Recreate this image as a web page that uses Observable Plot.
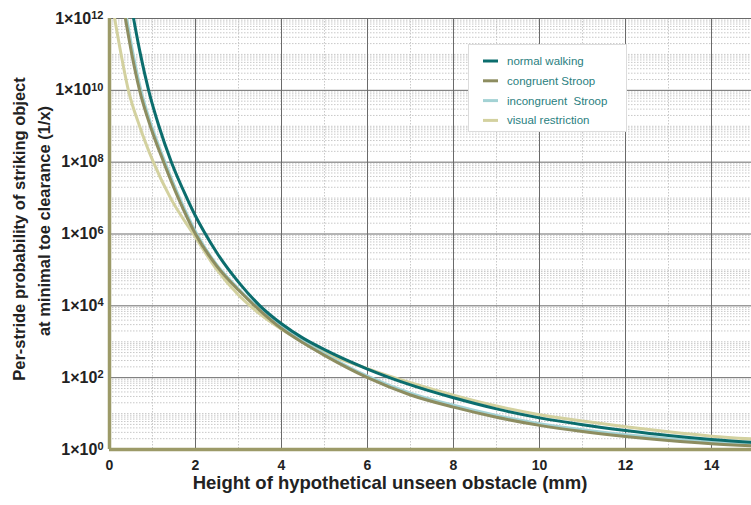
<!DOCTYPE html>
<html>
<head>
<meta charset="utf-8">
<script src="https://cdn.jsdelivr.net/npm/d3@7"></script>
<script src="https://cdn.jsdelivr.net/npm/@observablehq/plot@0.6"></script>
<style>
  html, body { margin: 0; padding: 0; background: #fff; }
  #chart { position: relative; width: 751px; height: 505px; }
  svg { font-family: "Liberation Sans", Arial, sans-serif; }
</style>
</head>
<body>
<div id="chart"></div>
<script>
// ---- data ----
const seriesNames = ["normal walking", "congruent Stroop", "incongruent  Stroop", "visual restriction"];
const seriesColors = ["#0b6d6d", "#8d8d60", "#a3d2d4", "#d3d19f"];

const normalX = [0.56, 0.72, 0.91, 1.15, 1.44, 1.8, 2.0, 2.2, 2.5, 3.0, 3.5, 4, 4.5, 5, 6, 7, 8, 9, 10, 11, 12, 13, 14, 15];
const normalY = [1e12, 1e11, 1e10, 1e9, 1e8, 1e7, 3.16e6, 1.15e6, 2.95e5, 4.57e4, 1e4, 3.16e3, 1.26e3, 603, 174, 63, 27.5, 13.5, 7.6, 4.9, 3.39, 2.45, 1.9, 1.58];

const congruentX = [0.37, 0.52, 0.70, 0.95, 1.26, 1.6, 2.0, 2.5, 3.0, 3.5, 4, 4.5, 5, 6, 7, 8, 9, 10, 11, 12, 13, 14, 15];
const congruentY = [1e12, 1e11, 1e10, 1e9, 1e8, 1e7, 1e6, 1.26e5, 2.75e4, 7.4e3, 2.34e3, 933, 417, 100, 33, 15.1, 7.9, 4.7, 3.16, 2.3, 1.78, 1.45, 1.26];

const incongruentX = [0.40, 0.55, 0.73, 0.98, 1.29, 1.63, 2.03, 2.5, 3.0, 3.5, 4, 4.5, 5, 6, 7, 8, 9, 10, 11, 12, 13, 14, 15];
const incongruentY = [1e12, 1e11, 1e10, 1e9, 1e8, 1e7, 1e6, 1.35e5, 2.95e4, 8.1e3, 2.57e3, 1.02e3, 457, 110, 37, 17, 8.9, 5.25, 3.55, 2.57, 2.0, 1.62, 1.41];

const visualX = [0.12, 0.27, 0.44, 0.70, 1.02, 1.42, 1.95, 2.5, 3.0, 3.5, 4, 4.5, 5, 6, 7, 8, 9, 10, 11, 12, 13, 14, 15];
const visualY = [1e12, 1e11, 1e10, 1e9, 1e8, 1e7, 1e6, 1e5, 2.0e4, 5.9e3, 2.24e3, 1e3, 501, 178, 72, 32.4, 16.2, 9.3, 6.2, 4.3, 3.1, 2.35, 1.95];

const xTicks = [0, 2, 4, 6, 8, 10, 12, 14];
const xMinorTicks = [1, 3, 5, 7, 9, 11, 13];
const yTicks = [1, 1e2, 1e4, 1e6, 1e8, 1e10, 1e12];
const yTickBase = "1×10";
const yTickExp = ["0", "2", "4", "6", "8", "10", "12"];

const xLabel = "Height of hypothetical unseen obstacle (mm)";
const yLabel1 = "Per-stride probability of striking object";
const yLabel2 = "at minimal toe clearance (1/x)";

// ---- build table ----
const seriesXs = [normalX, congruentX, incongruentX, visualX];
const seriesYs = [normalY, congruentY, incongruentY, visualY];
const rows = [];
seriesNames.forEach((name, i) => {
  seriesXs[i].forEach((x, j) => rows.push({series: name, x, y: seriesYs[i][j]}));
});

// minor log grid lines: 2..9 x 10^k and odd decades
const yMinor = [];
for (let k = 0; k < 12; k++) {
  for (let m = 2; m <= 9; m++) yMinor.push(m * Math.pow(10, k));
  if (k % 2 === 1) yMinor.push(Math.pow(10, k));
}

const drawOrder = ["visual restriction", "incongruent  Stroop", "congruent Stroop", "normal walking"];
const colorOf = Object.fromEntries(seriesNames.map((n, i) => [n, seriesColors[i]]));

const FONT = '"Liberation Sans", Arial, sans-serif';

const plot = Plot.plot({
  width: 751,
  height: 505,
  marginLeft: 109,
  marginRight: 0,
  marginTop: 18,
  marginBottom: 56,
  style: {fontFamily: FONT, background: "#fff"},
  x: {domain: [0, 14.93]},
  y: {type: "log", domain: [1, 1e12]},
  marks: [
    Plot.gridX(xMinorTicks, {stroke: "#c8c8c8", strokeOpacity: 1, strokeDasharray: "1.5,1.5"}),
    Plot.gridY(yMinor, {stroke: "#c8c8c8", strokeOpacity: 1, strokeDasharray: "1.5,1.5"}),
    Plot.gridX(xTicks.slice(1), {stroke: "#6a6a6a", strokeOpacity: 1}),
    Plot.gridY(yTicks, {stroke: "#6a6a6a", strokeOpacity: 1}),
    ...drawOrder.map(name => Plot.line(rows.filter(d => d.series === name), {
      x: "x", y: "y", stroke: colorOf[name], strokeWidth: 3, curve: "monotone-x", clip: true
    })),
    Plot.ruleX([0], {stroke: "#9c9a68", strokeWidth: 3.5}),
    Plot.ruleY([1], {stroke: "#9c9a68", strokeWidth: 3.5}),
    Plot.axisX({ticks: xTicks, tickSize: 0, tickPadding: 11, fontSize: 14, fontWeight: "bold", label: null, fill: "#222"}),
    Plot.axisY({ticks: yTicks, tickFormat: () => yTickBase, tickSize: 0, tickPadding: 6, fontSize: 16, fontWeight: "bold", label: null, fill: "#222"})
  ]
});

document.getElementById("chart").appendChild(plot);

const svg = d3.select(plot);

// superscript exponents on y tick labels
svg.selectAll('g[aria-label="y-axis tick label"] text').each(function(d, i) {
  d3.select(this).append("tspan").attr("dy", "-0.45em").attr("font-size", 11).text(yTickExp[i]);
});

// ---- axis titles & legend ----
svg.append("text")
  .attr("x", 390).attr("y", 489)
  .attr("text-anchor", "middle")
  .attr("font-family", FONT).attr("font-weight", "bold").attr("font-size", 18.5)
  .attr("fill", "#222")
  .text(xLabel);
svg.append("text")
  .attr("transform", "translate(25,229) rotate(-90)")
  .attr("text-anchor", "middle")
  .attr("font-family", FONT).attr("font-weight", "bold").attr("font-size", 16.5)
  .attr("fill", "#222")
  .text(yLabel1);
svg.append("text")
  .attr("transform", "translate(50,221) rotate(-90)")
  .attr("text-anchor", "middle")
  .attr("font-family", FONT).attr("font-weight", "bold").attr("font-size", 16.5)
  .attr("fill", "#222")
  .text(yLabel2);

const lg = svg.append("g").attr("text-anchor", "start");
lg.append("rect").attr("x", 468.5).attr("y", 44.5).attr("width", 158).attr("height", 87)
  .attr("fill", "#fff").attr("stroke", "#dcdcdc");
seriesNames.forEach((name, i) => {
  const yy = 61 + i * 19.8;
  lg.append("line").attr("x1", 483).attr("x2", 498).attr("y1", yy).attr("y2", yy)
    .attr("stroke", seriesColors[i]).attr("stroke-width", 3);
  lg.append("text").attr("x", 507).attr("y", yy + 4)
    .attr("text-anchor", "start")
    .attr("font-family", FONT).attr("font-size", 11.5).attr("fill", "#2a8080")
    .style("white-space", "pre")
    .text(name);
});
</script>
</body>
</html>
